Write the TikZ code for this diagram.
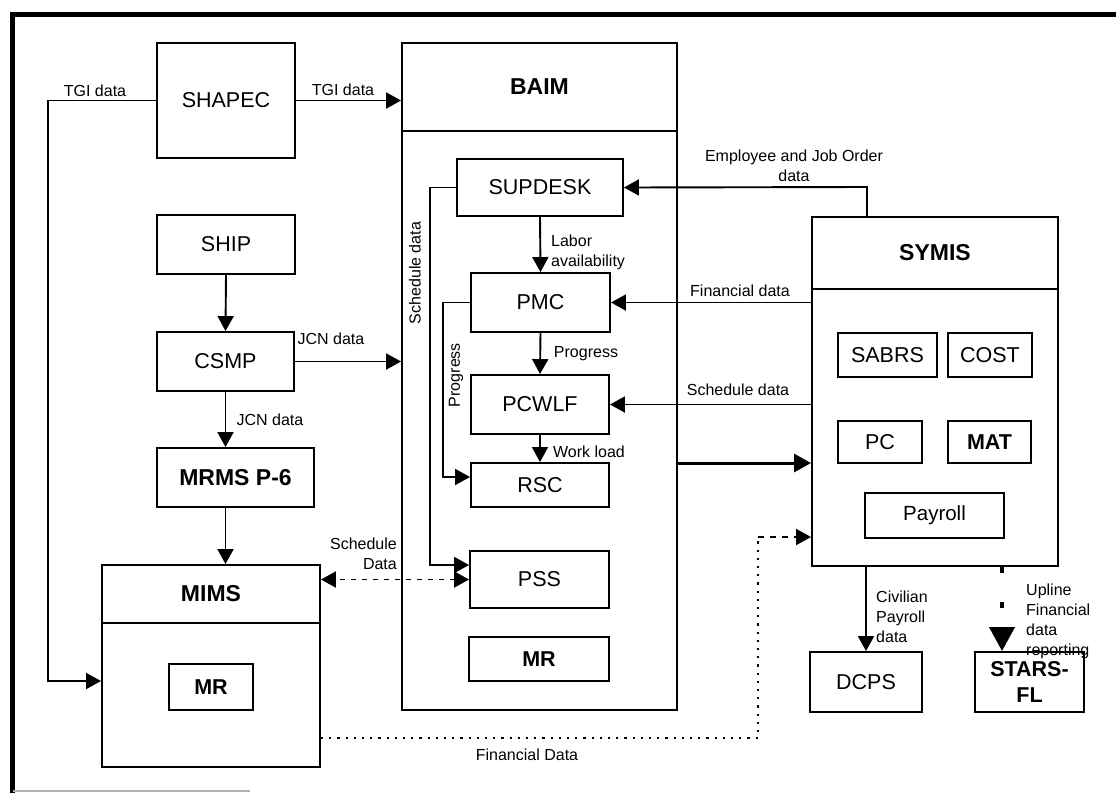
\documentclass[tikz,border=0pt]{standalone}
\usepackage{fontspec}
\setmainfont{Liberation Sans}
\usetikzlibrary{arrows.meta}
\begin{document}
\begin{tikzpicture}[x=1pt,y=-1pt,
  box/.style={draw,line width=1.9pt,inner sep=0pt,align=center,font=\fontsize{21.5}{24}\selectfont},
  bbox/.style={box,font=\bfseries\fontsize{23}{26}\selectfont},
  lbl/.style={inner sep=0pt,align=left,font=\fontsize{16}{20}\selectfont},
  con/.style={line width=1.9pt},
  arr/.style={con,-{Triangle[length=15pt,width=16pt]}},
  darr/.style={con,{Triangle[length=15pt,width=16pt]}-{Triangle[length=15pt,width=16pt]}},
]
\useasboundingbox (0,0) rectangle (1116,793);
% frame
\draw[line width=5pt] (12.5,793) -- (12.5,14.5) -- (1116,14.5);
\draw[line width=1.5pt,gray!60] (13,791) -- (250,791);

% left column
\node[box,minimum width=138,minimum height=115] (shapec) at (226,100.5) {SHAPEC};
\node[box,minimum width=138,minimum height=59] (ship) at (226,244.5) {SHIP};
\node[box,minimum width=137,minimum height=59] (csmp) at (225.5,361.5) {CSMP};
\node[bbox,minimum width=157,minimum height=59] (mrms) at (235.5,477.5) {MRMS P-6};
\node[bbox,minimum width=218,minimum height=58] (mimshead) at (211,594) {MIMS};
\node[box,minimum width=218,minimum height=144] (mims) at (211,695) {};
\node[bbox,minimum width=84,minimum height=46,font=\bfseries\fontsize{21.5}{24}\selectfont] (mimsmr) at (211,687) {MR};

% BAIM
\node[bbox,minimum width=275,minimum height=88] (baimhead) at (539.5,87) {BAIM};
\node[box,minimum width=275,minimum height=579] (baim) at (539.5,420.5) {};
\node[box,minimum width=166,minimum height=57] (supdesk) at (540,187.5) {SUPDESK};
\node[box,minimum width=139,minimum height=59] (pmc) at (540.5,302.5) {PMC};
\node[box,minimum width=138,minimum height=59] (pcwlf) at (540,404.5) {PCWLF};
\node[box,minimum width=138,minimum height=44] (rsc) at (540,485) {RSC};
\node[box,minimum width=139,minimum height=57] (pss) at (539.5,579.5) {PSS};
\node[box,minimum width=140,minimum height=44,font=\bfseries\fontsize{21.5}{24}\selectfont] (baimmr) at (539,659) {MR};

% SYMIS
\node[bbox,minimum width=246,minimum height=72] (symishead) at (935,253) {SYMIS};
\node[box,minimum width=246,minimum height=277] (symis) at (935,427.5) {};
\node[box,minimum width=99,minimum height=44] (sabrs) at (887.5,355) {SABRS};
\node[box,minimum width=84,minimum height=44] (cost) at (990,355) {COST};
\node[box,minimum width=84,minimum height=42] (pc) at (880,442) {PC};
\node[box,minimum width=83,minimum height=42,font=\bfseries\fontsize{21.5}{24}\selectfont] (mat) at (989.5,442) {MAT};
\node[box,minimum width=139,minimum height=45,font=\fontsize{20.5}{24}\selectfont] (payroll) at (934.5,515.5) {Payroll};
\node[box,minimum width=112,minimum height=60] (dcps) at (866,682) {DCPS};
\node[box,minimum width=109,minimum height=60,font=\bfseries\fontsize{21.5}{26}\selectfont] (stars) at (1029.5,682) {STARS-\\FL};

% coordinates
\coordinate (tgiL) at (48,681);
\coordinate (fdA) at (758,738);
\coordinate (fdB) at (758,537);
\coordinate (sdL) at (430,565);
\coordinate (prL) at (443,477);
\coordinate (emp) at (867,187);
\coordinate (thk) at (0,463);
\coordinate (up) at (1002,0);

% connectors
\draw[arr] (shapec.west) -| (tgiL) -- (tgiL -| mims.west);
\draw[arr] (shapec.east) -- (shapec.east -| baimhead.west);
\draw[arr] (ship.south) -- (csmp.north);
\draw[arr] (csmp.east) -- (csmp.east -| baim.west);
\draw[arr] (csmp.south) -- (csmp.south |- mrms.north);
\draw[arr] (csmp.south |- mrms.south) -- (csmp.south |- mimshead.north);
\draw[darr,dash pattern=on 5pt off 6pt] (pss.west) -- (pss.west -| mimshead.east);
\draw[con,line width=2.2pt,dash pattern=on 2.2pt off 6pt] (mims.east |- fdA) -- (fdA) -- (fdB);
\draw[arr,dash pattern=on 6pt off 6pt] (fdB) -- (fdB -| symis.west);
\draw[arr] (supdesk.west) -| (sdL) -- (sdL -| pss.west);
\draw[arr] (supdesk.south) -- (pmc.north);
\draw[arr] (pmc.west) -| (prL) -- (prL -| rsc.west);
\draw[arr] (pmc.south) -- (pcwlf.north);
\draw[arr] (pcwlf.south) -- (rsc.north);
\draw[arr] (emp |- symishead.north) -- (emp) -- (supdesk.east);
\draw[arr] (symis.west |- pmc.east) -- (pmc.east);
\draw[arr] (symis.west |- pcwlf.east) -- (pcwlf.east);
\draw[line width=3pt,-{Triangle[length=17pt,width=18pt]}] (baim.east |- thk) -- (symis.west |- thk);
\draw[arr] (dcps.north |- symis.south) -- (dcps.north);
\draw[line width=4pt,dash pattern=on 6pt off 29pt,-{Triangle[length=24pt,width=25pt]}] (up |- symis.south) -- (up |- stars.north);

% labels
\node[lbl] (l1) at (95,91) {TGI data};
\node[lbl] (l2) at (343,90) {TGI data};
\node[lbl] (l3) at (331,339) {JCN data};
\node[lbl] (l4) at (270,420) {JCN data};
\node[lbl,align=right,anchor=east] (l5) at (397,554) {Schedule\\Data};
\node[lbl] (l6) at (527,755) {Financial Data};
\node[lbl,rotate=90] (l7) at (415,273) {Schedule data};
\node[lbl,anchor=west] (l8) at (551,252.5) {Labor\\availability};
\node[lbl,rotate=90] (l9) at (456,375) {Progress};
\node[lbl] (l10) at (586,354) {Progress};
\node[lbl] (l11) at (589,452) {Work load};
\node[lbl,align=center] (l12) at (794,165.5) {Employee and Job Order\\data};
\node[lbl] (l13) at (740,291) {Financial data};
\node[lbl] (l14) at (738,390) {Schedule data};
\node[lbl,anchor=west] (l15) at (876,617) {Civilian\\Payroll\\data};
\node[lbl,anchor=west] (l16) at (1026,621) {Upline\\Financial\\data\\reporting};
\end{tikzpicture}
\end{document}
